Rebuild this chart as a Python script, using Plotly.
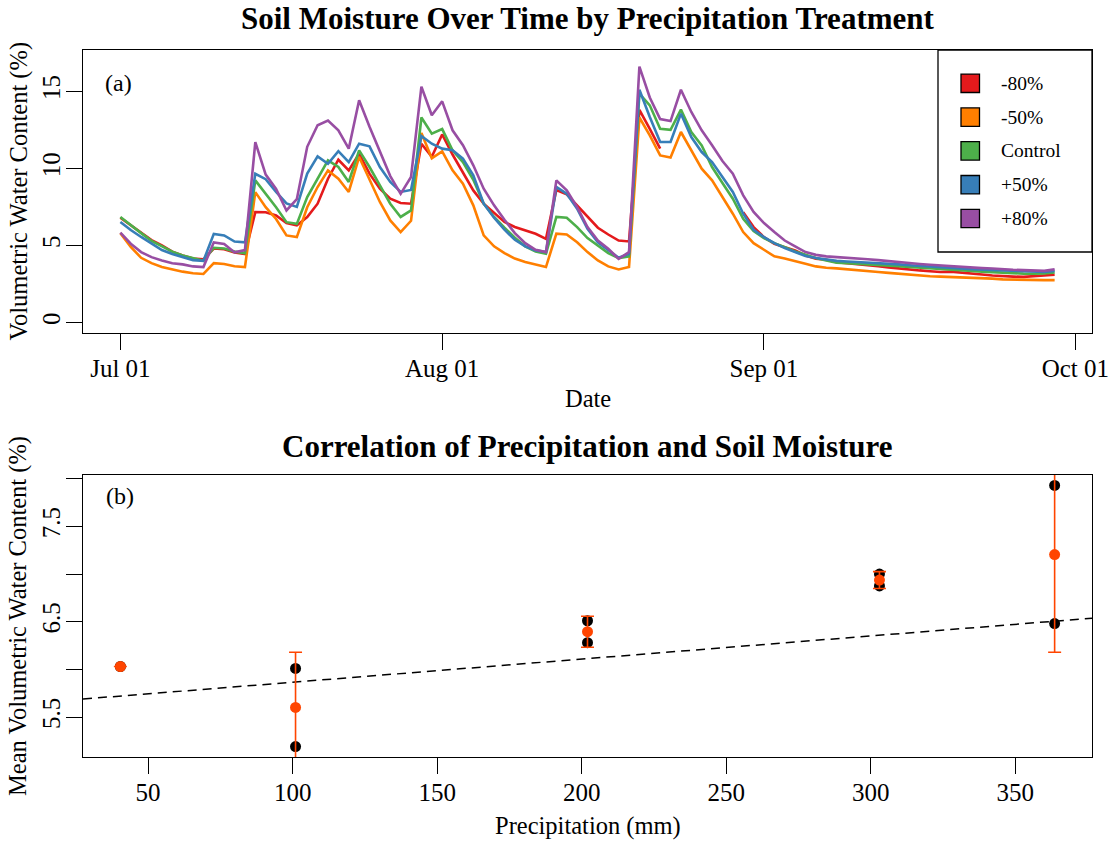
import numpy as np
import pandas as pd
import plotly.graph_objects as go

# ---------------- data ----------------
start_date = "2023-07-01"
n_days = 91
series_names = ["-80%", "-50%", "Control", "+50%", "+80%"]
series_colors = ["#E41A1C", "#FF7F00", "#4DAF4A", "#377EB8", "#984EA3"]

vwc_m80 = [6.8, 6.3, 5.86, 5.35, 5.0, 4.6, 4.35, 4.15, 4.1, 4.8,
           4.75, 4.55, 4.45, 7.16, 7.15, 6.95, 6.45, 6.3, 6.84, 7.71,
           9.33, 10.56, 9.87, 10.95, 9.66, 8.68, 8.03, 7.75, 7.71, 11.6,
           10.75, 12.2, 10.9, 9.7, 8.57, 7.71, 7.1, 6.52, 6.2, 5.97,
           5.76, 5.43, 8.6, 8.31, 7.6, 6.85, 6.15, 5.71, 5.32, 5.26,
           13.8, 12.57, 11.28, None, None, None, None, None, None, None,
           7.16, 6.19, 5.54, 5.11, 4.89, 4.68, 4.35, 4.14, 4.07, 3.92,
           3.85, 3.8, 3.72, 3.65, 3.58, 3.5, 3.44, 3.38, 3.33, 3.28,
           3.3, 3.25, 3.2, 3.12, 3.05, 3.0, 2.98, 2.96, 3.0, 3.05, 3.1]
vwc_m50 = [5.8, 4.9, 4.2, 3.85, 3.6, 3.45, 3.3, 3.2, 3.15, 3.85,
           3.8, 3.65, 3.6, 8.46, 7.48, 6.72, 5.65, 5.54, 7.48, 8.79,
           9.87, 9.33, 8.47, 10.74, 9.22, 7.82, 6.62, 5.87, 6.6, 12.3,
           10.65, 11.1, 9.87, 9.0, 7.6, 5.65, 4.94, 4.5, 4.15, 3.92,
           3.77, 3.6, 5.76, 5.71, 5.21, 4.57, 4.03, 3.64, 3.44, 3.6,
           13.3, 12.14, 10.84, 10.7, 12.36, 11.17, 9.98, 9.22, 8.18, 7.06,
           5.87, 5.15, 4.72, 4.29, 4.16, 3.96, 3.81, 3.64, 3.55, 3.51,
           3.44, 3.38, 3.33, 3.28, 3.22, 3.16, 3.1, 3.05, 3.0, 2.98,
           2.96, 2.94, 2.92, 2.9, 2.85, 2.8, 2.78, 2.76, 2.75, 2.75, 2.75]
vwc_ctrl = [6.85, 6.3, 5.8, 5.3, 4.95, 4.6, 4.35, 4.15, 4.0, 4.85,
            4.8, 4.6, 4.5, 9.22, 8.35, 7.48, 6.51, 6.4, 8.14, 9.33,
            10.52, 10.09, 9.12, 11.17, 10.09, 8.9, 7.71, 6.85, 7.27, 13.3,
            12.25, 12.55, 11.17, 10.41, 9.26, 7.71, 6.85, 6.15, 5.5, 4.94,
            4.61, 4.46, 6.85, 6.8, 6.19, 5.48, 5.0, 4.5, 4.18, 4.29,
            14.85, 14.09, 12.57, 12.5, 13.81, 12.36, 11.49, 10.09, 9.05, 8.03,
            6.73, 5.93, 5.48, 5.15, 4.89, 4.61, 4.39, 4.18, 4.03, 3.88,
            3.85, 3.82, 3.78, 3.74, 3.7, 3.65, 3.6, 3.55, 3.5, 3.46,
            3.42, 3.38, 3.34, 3.3, 3.26, 3.22, 3.19, 3.17, 3.16, 3.18, 3.25]
vwc_p50 = [6.52, 6.0, 5.55, 5.1, 4.7, 4.45, 4.25, 4.05, 4.0, 5.75,
           5.65, 5.25, 5.2, 9.65, 9.3, 8.47, 7.73, 7.5, 9.66, 10.78,
           10.3, 11.12, 10.41, 11.6, 11.43, 10.09, 9.12, 8.47, 8.6, 12.1,
           11.6, 11.28, 11.17, 10.63, 9.55, 7.71, 6.8, 6.02, 5.37, 4.94,
           4.68, 4.57, 8.8, 8.35, 7.38, 6.08, 5.21, 4.68, 4.2, 4.46,
           15.1, 13.33, 11.71, 11.71, 13.55, 12.03, 11.06, 10.41, 9.48, 8.47,
           7.06, 6.02, 5.54, 5.15, 4.83, 4.55, 4.31, 4.18, 4.07, 4.0,
           3.96, 3.93, 3.9, 3.86, 3.82, 3.77, 3.72, 3.67, 3.62, 3.57,
           3.53, 3.5, 3.46, 3.42, 3.39, 3.36, 3.33, 3.3, 3.28, 3.28, 3.35]
vwc_p80 = [5.83, 5.11, 4.57, 4.24, 4.03, 3.85, 3.77, 3.64, 3.6, 5.2,
           5.1, 4.55, 4.7, 11.7, 9.6, 8.66, 7.27, 8.0, 11.4, 12.8,
           13.1, 12.47, 11.28, 14.42, 12.7, 11.06, 9.5, 8.35, 9.44, 15.3,
           13.45, 14.35, 12.47, 11.5, 10.2, 8.68, 7.6, 6.67, 5.8, 5.15,
           4.72, 4.57, 9.22, 8.57, 7.49, 6.19, 5.32, 4.78, 4.13, 4.57,
           16.6, 14.6, 13.2, 13.07, 15.1, 13.66, 12.47, 11.5, 10.48, 9.66,
           8.25, 7.17, 6.45, 5.87, 5.32, 4.94, 4.57, 4.39, 4.29, 4.24,
           4.18, 4.15, 4.1, 4.05, 3.98, 3.92, 3.85, 3.8, 3.75, 3.7,
           3.65, 3.6, 3.57, 3.53, 3.5, 3.45, 3.42, 3.4, 3.38, 3.35, 3.45]
series_values = [vwc_m80, vwc_m50, vwc_ctrl, vwc_p50, vwc_p80]

date_tick_vals = ["2023-07-01", "2023-08-01", "2023-09-01", "2023-10-01"]
date_tick_text = ["Jul 01", "Aug 01", "Sep 01", "Oct 01"]
top_ylim = [0, 17]
top_y_ticks = [0, 5, 10, 15]

precip_mm = [40.4, 101, 202, 303, 363.6]
rep1_vwc = [6.03, 6.01, 6.51, 7.0, 7.93]
rep2_vwc = [None, 5.19, 6.28, 6.875, 6.48]
fit_intercept = 5.622
fit_slope = 0.00243
bot_x_ticks = [50, 100, 150, 200, 250, 300, 350]
bot_y_ticks = [5.5, 6.0, 6.5, 7.0, 7.5, 8.0]
bot_y_text = ["5.5", "", "6.5", "", "7.5", ""]

# ---------------- derived ----------------
dates = pd.date_range(start_date, periods=n_days, freq="D")
span_days = (dates[-1] - dates[0]).days
pad = pd.Timedelta(days=0.04 * span_days)
top_xrange = [(dates[0] - pad).isoformat(), (dates[-1] + pad).isoformat()]
ys = top_ylim[1] - top_ylim[0]
top_yrange = [top_ylim[0] - 0.04 * ys, top_ylim[1] + 0.04 * ys]

px = np.array(precip_mm, dtype=float)
xr = [px.min() - 0.04 * (px.max() - px.min()), px.max() + 0.04 * (px.max() - px.min())]
allv = np.array([v for v in rep1_vwc + rep2_vwc if v is not None], dtype=float)
yr = [allv.min() - 0.04 * (allv.max() - allv.min()), allv.max() + 0.04 * (allv.max() - allv.min())]

means, sds = [], []
for a, b in zip(rep1_vwc, rep2_vwc):
    vals = np.array([v for v in (a, b) if v is not None], dtype=float)
    means.append(float(vals.mean()))
    sds.append(float(vals.std(ddof=1)) if len(vals) > 1 else None)

# ---------------- layout geometry (px) ----------------
W, H = 1114, 842
L, R = 83, 1092
T1, B1 = 50, 333
T2, B2 = 475, 757
def fx(p): return p / W
def fy(p): return 1 - p / H

FONT = "Liberation Serif"
fig = go.Figure()

for name, col, vals in zip(series_names, series_colors, series_values):
    fig.add_trace(go.Scatter(x=dates, y=vals, mode="lines", name=name,
                             line=dict(color=col, width=2.6), connectgaps=False,
                             showlegend=False, xaxis="x", yaxis="y"))

# regression line across full axis range
fx_line = np.array(xr)
fig.add_trace(go.Scatter(x=fx_line, y=fit_intercept + fit_slope * fx_line, mode="lines",
                         line=dict(color="black", width=1.5, dash="9px,6px"),
                         showlegend=False, xaxis="x2", yaxis="y2"))
# replicate points
rx, ry = [], []
for p, a, b in zip(precip_mm, rep1_vwc, rep2_vwc):
    for v in (a, b):
        if v is not None:
            rx.append(p); ry.append(v)
fig.add_trace(go.Scatter(x=rx, y=ry, mode="markers",
                         marker=dict(color="black", size=11),
                         showlegend=False, xaxis="x2", yaxis="y2"))
fig.add_trace(go.Scatter(x=precip_mm, y=means, mode="markers",
                         marker=dict(color="#FF4500", size=11),
                         error_y=dict(type="data", array=sds, color="#FF4500",
                                      thickness=1.6, width=6.5),
                         showlegend=False, xaxis="x2", yaxis="y2"))

axis_common = dict(showline=True, mirror=True, linecolor="black", linewidth=1.4,
                   ticks="outside", ticklen=16, tickwidth=1.4, tickcolor="black",
                   showgrid=False, zeroline=False, automargin=False,
                   tickfont=dict(family=FONT, size=25, color="black"))

fig.update_layout(
    width=W, height=H, autosize=False, margin=dict(l=0, r=0, t=0, b=0),
    paper_bgcolor="white", plot_bgcolor="white",
    xaxis=dict(domain=[fx(L), fx(R)], anchor="y", type="date", range=top_xrange,
               tickvals=date_tick_vals, ticktext=date_tick_text,
               ticklabelstandoff=-3, **axis_common),
    yaxis=dict(domain=[fy(B1), fy(T1)], anchor="x", range=top_yrange,
               tickvals=top_y_ticks, tickangle=-90, ticklabelstandoff=-4, **axis_common),
    xaxis2=dict(domain=[fx(L), fx(R)], anchor="y2", range=xr,
                tickvals=bot_x_ticks, ticklabelstandoff=-3, **axis_common),
    yaxis2=dict(domain=[fy(B2), fy(T2)], anchor="x2", range=yr,
                tickvals=bot_y_ticks, ticktext=bot_y_text, tickangle=-90,
                ticklabelstandoff=-4, **axis_common),
)

ann = []
def text(x, y, s, size=24, bold=False, angle=0, xanchor="center"):
    ann.append(dict(x=fx(x), y=fy(y), xref="paper", yref="paper", text=(f"<b>{s}</b>" if bold else s),
                    showarrow=False, textangle=angle, xanchor=xanchor, yanchor="middle",
                    font=dict(family=FONT, size=size, color="black")))
text((L + R) / 2, 19, "Soil Moisture Over Time by Precipitation Treatment", size=31, bold=True)
text((L + R) / 2, 446, "Correlation of Precipitation and Soil Moisture", size=31, bold=True)
text((L + R) / 2, 398, "Date", size=24.5)
text((L + R) / 2, 826, "Precipitation (mm)", size=24.5)
text(18, (T1 + B1) / 2, "Volumetric Water Content (%)", size=24.5, angle=-90)
text(18, (T2 + B2) / 2, "Mean Volumetric Water Content (%)", size=24.5, angle=-90)
text(103, 83, "(a)", size=24, xanchor="left")
text(104, 496, "(b)", size=24, xanchor="left")

# legend (manual, R style filled boxes)
shapes = [dict(type="rect", xref="paper", yref="paper", x0=fx(938), x1=fx(R), y0=fy(252), y1=fy(T1),
               line=dict(color="black", width=1.3), fillcolor="white", layer="above")]
for i, (name, col) in enumerate(zip(series_names, series_colors)):
    yc = 83.3 + 33.8 * i
    shapes.append(dict(type="rect", xref="paper", yref="paper", x0=fx(961), x1=fx(979.5),
                       y0=fy(yc + 9.2), y1=fy(yc - 9.2), line=dict(color="black", width=1.3),
                       fillcolor=col, layer="above"))
    text(999, yc, name, size=19.5, xanchor="left")

fig.update_layout(annotations=ann, shapes=shapes)
fig.write_html("out.html", config={"responsive": False})
